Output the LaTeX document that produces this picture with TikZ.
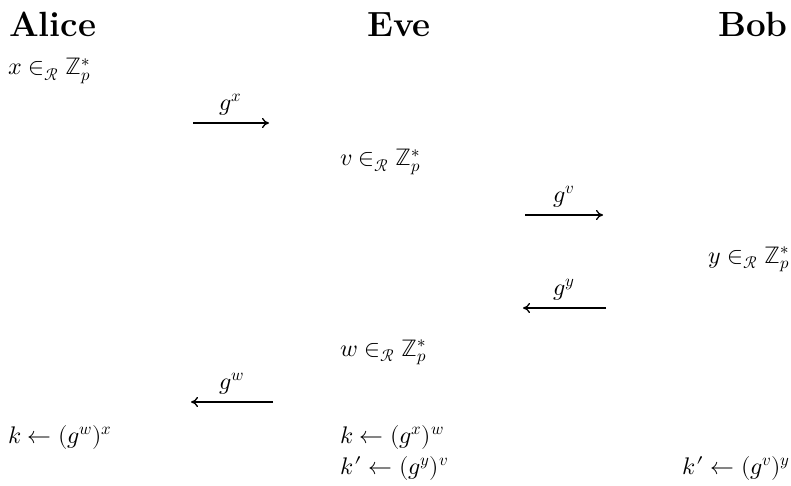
\documentclass[tikz,border=0pt]{standalone}
\usepackage{unicode-math}
\setmathfont{Latin Modern Math}
\usetikzlibrary{arrows.meta}
\tikzset{
  hdr/.style={inner sep=0pt, anchor=base west, font=\fontsize{35}{40}\selectfont\bfseries},
  mth/.style={inner sep=0pt, anchor=base west, font=\fontsize{24}{28}\selectfont},
  msg/.style={line width=1.3pt, -{To[length=7pt,width=10pt]}},
  lbl/.style={inner sep=0pt, above=7pt, font=\fontsize{24}{28}\selectfont}
}
\newcommand{\rin}{\mathrel{\in_{\mathcal{R}}}}
\newcommand{\kpr}{k\mskip1mu\mathord{\prime}}
\begin{document}
\begin{tikzpicture}[x=1pt,y=-1pt]
\useasboundingbox (0,0) rectangle (791,486);
\node[hdr] (alice) at (9,37) {Alice};
\node[hdr] (eve) at (367,37) {Eve};
\node[hdr, anchor=base east] (bob) at (788,37) {Bob};
\node[mth] (xa) at (8,75) {$x \rin \mathbb{Z}_p^*$};
\coordinate (m1s) at (193,123); \coordinate (m1e) at (269,123);
\draw[msg] (m1s) -- node[lbl] (l1) {$g^x$} (m1e);
\node[mth] (ve) at (340,166) {$v \rin \mathbb{Z}_p^*$};
\coordinate (m2s) at (525,215); \coordinate (m2e) at (603,215);
\draw[msg] (m2s) -- node[lbl] (l2) {$g^v$} (m2e);
\node[mth, anchor=base east] (yb) at (790,263) {$y \rin \mathbb{Z}_p^*$};
\coordinate (m3s) at (606,308); \coordinate (m3e) at (523,308);
\draw[msg] (m3s) -- node[lbl] (l3) {$g^y$} (m3e);
\node[mth] (we) at (340,356) {$w \rin \mathbb{Z}_p^*$};
\coordinate (m4s) at (273,402); \coordinate (m4e) at (191,402);
\draw[msg] (m4s) -- node[lbl] (l4) {$g^w$} (m4e);
\node[mth] (ka) at (8,443) {$k \leftarrow (g^w)^x$};
\node[mth] (ke) at (340,443) {$k \leftarrow (g^x)^w$};
\node[mth] (kpe) at (340,474) {$\kpr \leftarrow (g^y)^v$};
\node[mth, anchor=base east] (kpb) at (790,474) {$\kpr \leftarrow (g^v)^y$};
\end{tikzpicture}
\end{document}
